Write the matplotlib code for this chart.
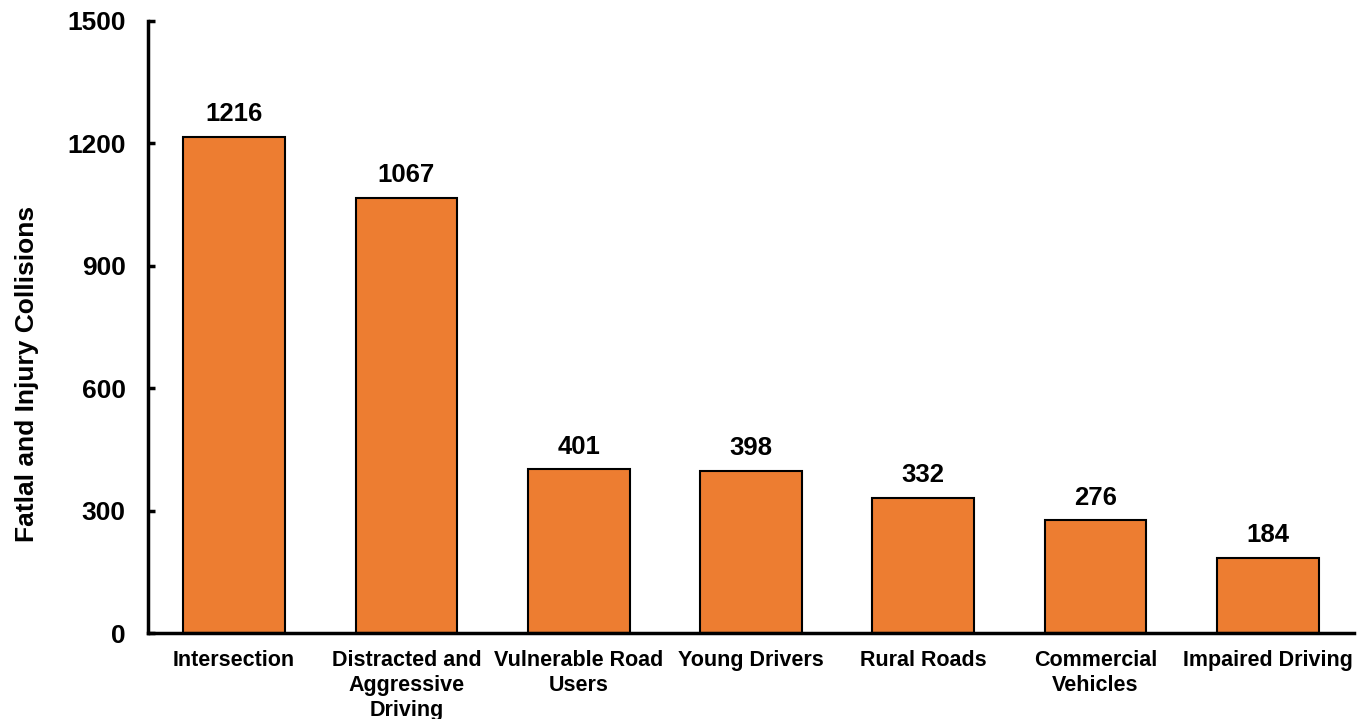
import matplotlib.pyplot as plt
import numpy as np

categories = ["Intersection", "Distracted and\nAggressive\nDriving",
              "Vulnerable Road\nUsers", "Young Drivers", "Rural Roads",
              "Commercial\nVehicles", "Impaired Driving"]
collisions = [1216, 1067, 401, 398, 332, 276, 184]
y_ticks = [0, 300, 600, 900, 1200, 1500]

plt.rcParams['font.family'] = ['Liberation Sans', 'DejaVu Sans']

fig = plt.figure(figsize=(13.64, 7.19), dpi=100)
ax = fig.add_axes([0.1085, 0.1196, 0.8842, 0.8512])

x = np.arange(len(categories))
bars = ax.bar(x, collisions, width=0.59, color="#ED7D31",
              edgecolor="black", linewidth=1.5)

# value labels above bars
for xi, v in zip(x, collisions):
    ax.text(xi, v + 26, str(v), ha="center", va="bottom",
            fontsize=18.5, fontweight="bold")

ax.set_xlim(-0.5, len(categories) - 0.5)
ax.set_ylim(0, 1500)
ax.set_yticks(y_ticks)
ax.set_yticklabels([str(t) for t in y_ticks], fontsize=19, fontweight="bold")
ax.set_xticks(x)
ax.set_xticklabels(categories, fontsize=15.5, fontweight="bold",
                   linespacing=1.25)
ax.tick_params(axis="x", length=0, pad=12)
ax.tick_params(axis="y", length=5, width=2.5, direction="in", pad=16)

for side in ["top", "right"]:
    ax.spines[side].set_visible(False)
for side in ["left", "bottom"]:
    ax.spines[side].set_linewidth(2.5)

ax.set_ylabel("Fatlal and Injury Collisions", fontsize=19,
              fontweight="bold")
ax.yaxis.set_label_coords(-0.09, 0.423)

fig.savefig("out.png", dpi=100)
